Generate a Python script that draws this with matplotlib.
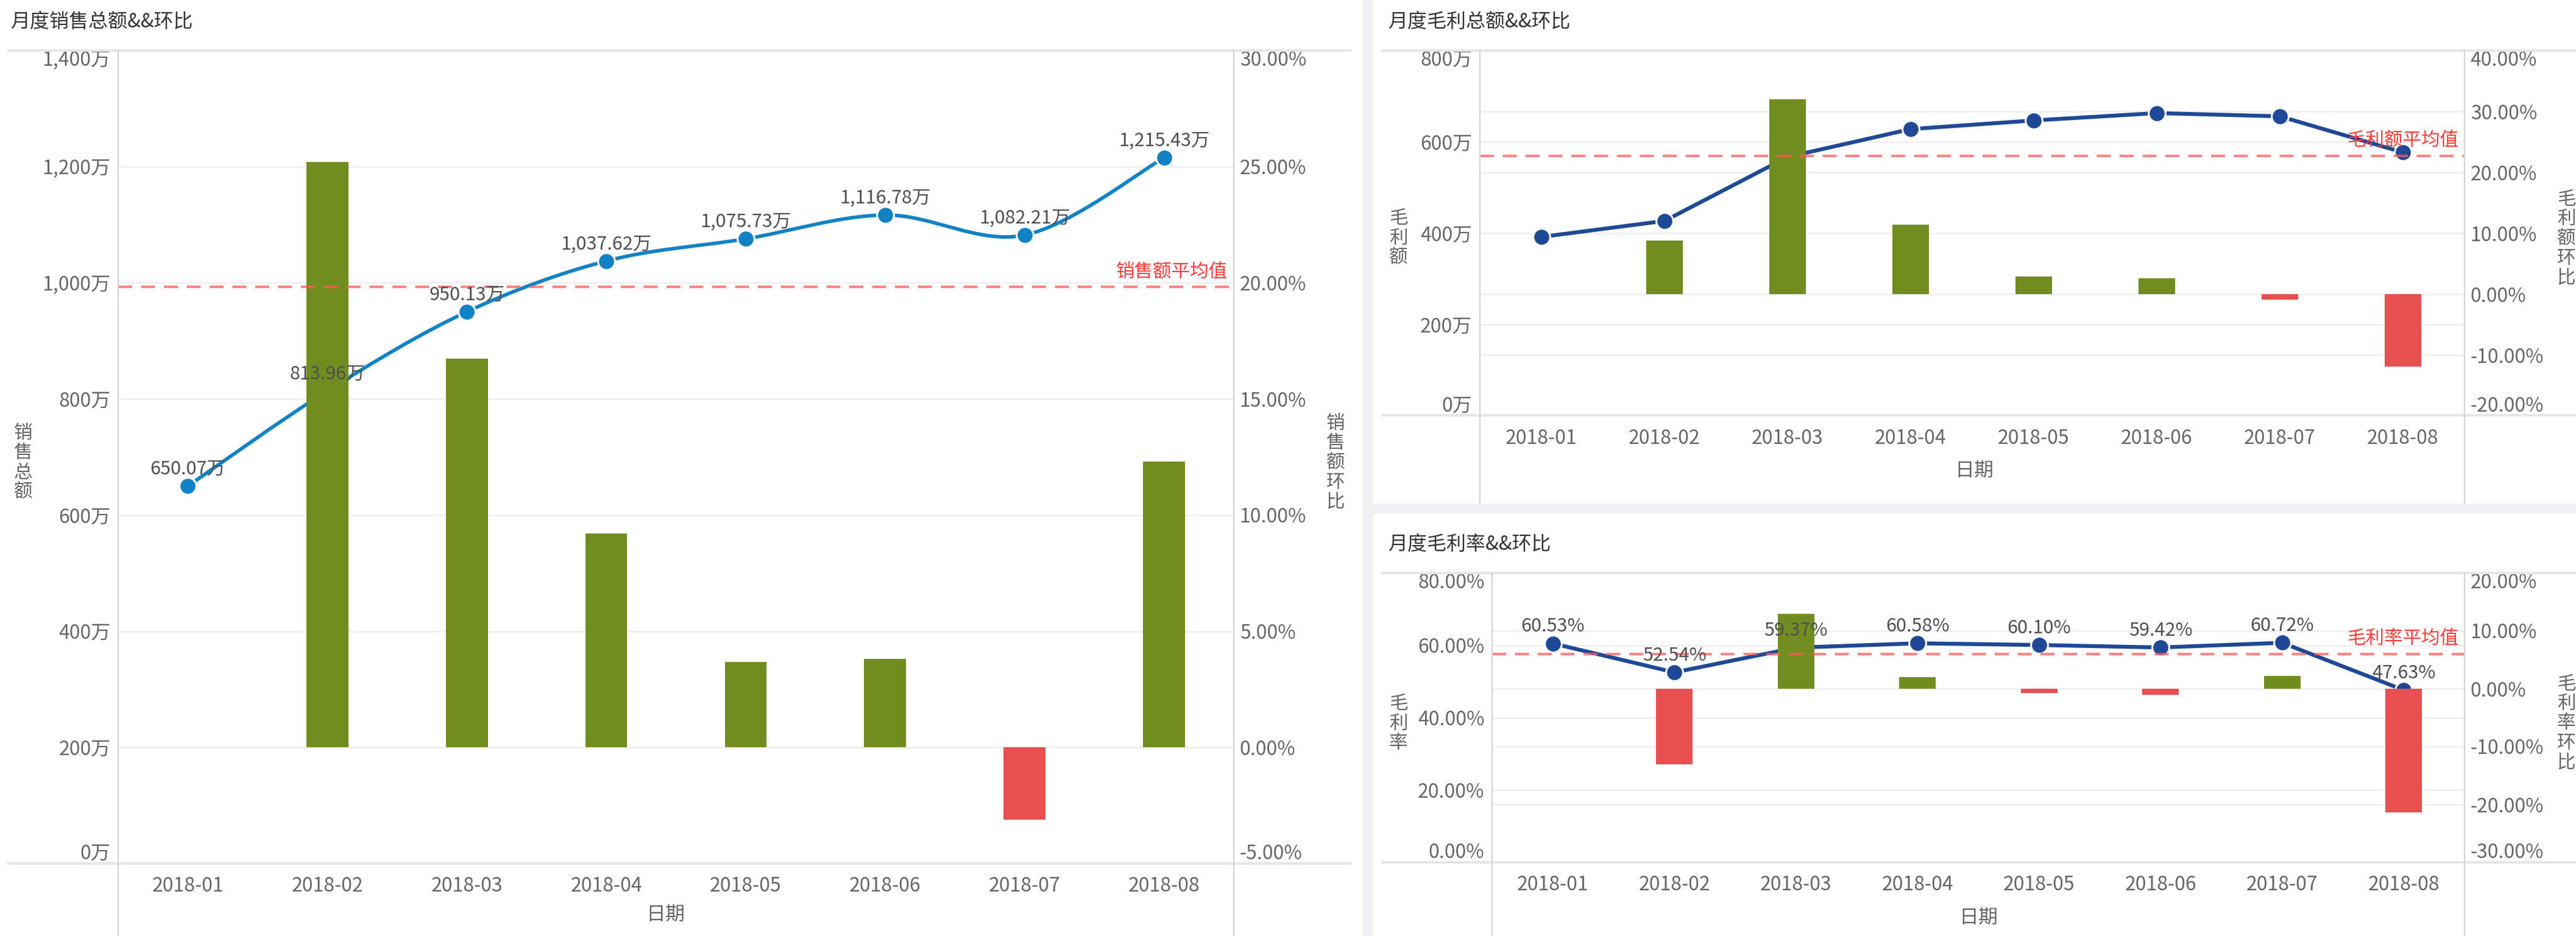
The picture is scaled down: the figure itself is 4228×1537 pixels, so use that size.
import numpy as np
import matplotlib
matplotlib.use("Agg")
import matplotlib.pyplot as plt
from matplotlib.lines import Line2D
from matplotlib.path import Path
from matplotlib.patches import PathPatch, Rectangle
from matplotlib.ticker import FuncFormatter
from matplotlib.transforms import blended_transform_factory as blend

plt.rcParams['font.family'] = ['Noto Sans CJK SC', 'DejaVu Sans']

## data
months = ['2018-01', '2018-02', '2018-03', '2018-04', '2018-05', '2018-06', '2018-07', '2018-08']
sales = [650.07, 813.96, 950.13, 1037.62, 1075.73, 1116.78, 1082.21, 1215.43]      # 万
sales_mom = [np.nan, 25.21, 16.73, 9.21, 3.67, 3.82, -3.10, 12.31]                  # %
profit = [392, 427, 567, 628, 647, 663, 656, 577]                                   # 万
profit_mom = [np.nan, 8.8, 32.0, 11.4, 2.9, 2.6, -0.9, -11.9]                       # %
margin = [60.53, 52.54, 59.37, 60.58, 60.10, 59.42, 60.72, 47.63]                   # %
margin_mom = [np.nan, -13.0, 12.9, 2.0, -0.7, -1.0, 2.2, -21.4]                     # %

W, H = 4228, 1537
fig = plt.figure(figsize=(W / 100, H / 100), dpi=100)
fig.patch.set_facecolor('white')

TICK = '#666666'
GRID = '#f0f0f0'
FS = 23


def fx(x):
    return x / W


def fy(y):
    return 1 - y / H


def hline(x0, x1, y, color='#e6e6e6', lw=3):
    fig.add_artist(Line2D([fx(x0), fx(x1)], [fy(y), fy(y)], color=color, lw=lw,
                          transform=fig.transFigure))


def vline(x, y0, y1, color='#d2d2d2', lw=1.5):
    fig.add_artist(Line2D([fx(x), fx(x)], [fy(y0), fy(y1)], color=color, lw=lw,
                          transform=fig.transFigure))


def smooth_path(xs, ys):
    ## catmull-rom style bezier through the points
    pts = np.column_stack([xs, ys]).astype(float)
    verts = [pts[0]]
    codes = [Path.MOVETO]
    n = len(pts)
    for i in range(n - 1):
        p0 = pts[i - 1] if i > 0 else pts[i]
        p1 = pts[i]
        p2 = pts[i + 1]
        p3 = pts[i + 2] if i + 2 < n else pts[i + 1]
        c1 = p1 + (p2 - p0) / 6
        c2 = p2 - (p3 - p1) / 6
        verts += [c1, c2, p2]
        codes += [Path.CURVE4] * 3
    return Path(verts, codes)


def panel(l, t, r, b, vals, moms, ylim, yticks, yfmt, y2lim, y2ticks,
          line_color, smooth, label_fmt, avg_name):
    ax = fig.add_axes([fx(l), fy(b), fx(r) - fx(l), (b - t) / H])
    ax2 = ax.twinx()
    x = np.arange(len(months))

    ## line (primary axis)
    if smooth:
        ax.add_patch(PathPatch(smooth_path(x, vals), fill=False, edgecolor=line_color,
                               lw=4.2, zorder=3, capstyle='round'))
        ax.plot(x, vals, 'o', ms=20, color=line_color, mec='white', mew=2.2, zorder=4)
    else:
        ax.plot(x, vals, '-o', lw=4.6, ms=20, color=line_color, mec='white', mew=2.2, zorder=4)

    ## bars (secondary axis)
    moms = np.array(moms, dtype=float)
    ok = ~np.isnan(moms)
    colors = ['#718d20' if m >= 0 else '#e84f4f' for m in moms[ok]]
    ax2.bar(x[ok], moms[ok], width=0.3, color=colors, zorder=2)

    ## average line and label drawn above the bars
    avg = np.mean(vals)
    tr = blend(ax.transAxes, ax.transData)
    ax2.plot([0, 1], [avg, avg], transform=tr, color='#ff5a5a', alpha=0.75, lw=3,
             linestyle=(0, (5.5, 3.5)), zorder=3)
    ax2.annotate(avg_name, xy=(1, avg), xycoords=tr, xytext=(-7, 7),
                 textcoords='offset points', ha='right', va='bottom',
                 fontsize=FS - 1, color='#ff3b3b', zorder=6)

    ## value labels
    if label_fmt is not None:
        for i, v in enumerate(vals):
            ax2.annotate(label_fmt(v), xy=(i, v), xycoords=ax.transData, xytext=(0, 9),
                         textcoords='offset points', ha='center', va='bottom',
                         fontsize=FS - 1, color='#505050', zorder=6)

    ## grids for both scales
    ax.set_yticks(yticks)
    ax.yaxis.grid(True, color=GRID, lw=2)
    ax.set_axisbelow(True)
    tr2 = blend(ax.transAxes, ax2.transData)
    for g in y2ticks:
        ax.plot([0, 1], [g, g], transform=tr2, color=GRID, lw=2, zorder=0.5)

    ax.set_xlim(-0.5, len(months) - 0.5)
    ax.set_ylim(*ylim)
    ax2.set_ylim(*y2lim)
    ax2.set_yticks(y2ticks)
    ax.set_xticks(x)
    ax.set_xticklabels(months)
    ax.yaxis.set_major_formatter(FuncFormatter(yfmt))
    ax2.yaxis.set_major_formatter(FuncFormatter(lambda v, p: f'{v:.2f}%'))

    ax.tick_params(axis='x', length=0, labelsize=FS, colors=TICK, pad=15)
    ax.tick_params(axis='y', length=0, labelsize=FS, colors=TICK, pad=9)
    ax2.tick_params(axis='y', length=0, labelsize=FS, colors=TICK, pad=7)
    for a in (ax, ax2):
        a.patch.set_visible(False)
        for s in a.spines.values():
            s.set_visible(False)

    ## keep the end labels inside the plot box
    t1 = ax.yaxis.get_major_ticks()
    t1[0].label1.set_va('bottom')
    t1[-1].label1.set_va('top')
    t2 = ax2.yaxis.get_major_ticks()
    t2[0].label2.set_va('bottom')
    t2[-1].label2.set_va('top')
    return ax, ax2


wan = lambda v, p=None: f'{v:,.0f}万'
pct = lambda v, p=None: f'{v:.2f}%'

## left: 销售总额
panel(194, 83, 2025, 1418, sales, sales_mom, (0, 1400), range(0, 1401, 200), wan,
      (-5, 30), range(-5, 31, 5), '#1282c6', True, lambda v: f'{v:,.2f}万', '销售额平均值')
## top right: 毛利总额
panel(2429, 83, 4045, 683, profit, profit_mom, (0, 800), range(0, 801, 200), wan,
      (-20, 40), range(-20, 41, 10), '#1f4996', False, None, '毛利额平均值')
## bottom right: 毛利率
panel(2449, 941, 4045, 1416, margin, margin_mom, (0, 80), range(0, 81, 20), pct,
      (-30, 20), range(-30, 21, 10), '#1f4996', False, lambda v: f'{v:.2f}%', '毛利率平均值')

## frame lines
hline(14, 2216, 83)
hline(14, 2216, 1418)
vline(194, 83, 1537)
vline(2025, 83, 1537)
hline(2269, 4228, 83)
hline(2269, 4228, 682)
vline(2429, 83, 827)
vline(4045, 83, 827)
hline(2269, 4228, 941)
hline(2269, 4228, 1416)
vline(2449, 941, 1537)
vline(4045, 941, 1537)

## gutters between the panels
fig.add_artist(Rectangle((fx(2237), 0), 15 / W, 1, color='#eef0f4', transform=fig.transFigure, zorder=0))
fig.add_artist(Rectangle((fx(2252), fy(842)), 1 - fx(2252), 15 / H, color='#eef0f4',
                         transform=fig.transFigure, zorder=0))

## titles
fig.text(fx(17), fy(36), '月度销售总额&&环比', fontsize=FS, color='#333333', va='center')
fig.text(fx(2278), fy(36), '月度毛利总额&&环比', fontsize=FS, color='#333333', va='center')
fig.text(fx(2278), fy(894), '月度毛利率&&环比', fontsize=FS, color='#333333', va='center')

## axis titles
def stacked(x, y, s):
    fig.text(fx(x), fy(y), '\n'.join(s), fontsize=FS - 1, color='#666666',
             ha='center', va='center', linespacing=1.05)

stacked(38, 760, '销售总额')
stacked(2192, 760, '销售额环比')
stacked(2295, 391, '毛利额')
stacked(4212, 392, '毛利额环比')
stacked(2295, 1188, '毛利率')
stacked(4212, 1188, '毛利率环比')
fig.text(fx(1092), fy(1502), '日期', fontsize=FS, color='#666666', ha='center', va='center')
fig.text(fx(3240), fy(773), '日期', fontsize=FS, color='#666666', ha='center', va='center')
fig.text(fx(3247), fy(1507), '日期', fontsize=FS, color='#666666', ha='center', va='center')

fig.savefig('out.png', dpi=100)
